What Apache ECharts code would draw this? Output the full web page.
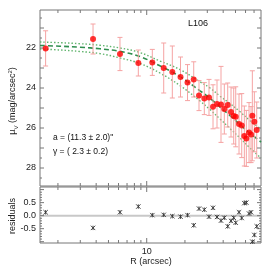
<!DOCTYPE html>
<html><head><meta charset="utf-8">
<script src="https://cdn.jsdelivr.net/npm/echarts@6/dist/echarts.min.js"></script>
<style>html,body{margin:0;padding:0;background:#fff}#c{width:270px;height:270px}</style>
</head><body><div id="c"></div>
<script>
// ---- data ----
const radius = [1.60, 3.78, 6.16, 8.59, 11.07, 13.61, 15.91, 18.46, 20.96, 23.45, 25.81, 28.41, 30.94, 33.27, 35.77, 38.46, 40.83, 43.43, 46.11, 48.42, 50.22, 53.31, 55.98, 58.69, 60.86, 63.92, 66.29, 67.86, 70.36, 73.48];
const mu = [22.02, 21.55, 22.30, 22.75, 22.72, 23.00, 23.20, 23.45, 23.73, 23.57, 24.38, 24.53, 24.47, 24.94, 24.80, 24.82, 25.05, 24.85, 25.20, 25.40, 25.44, 25.80, 25.88, 26.40, 26.52, 26.23, 26.33, 25.39, 25.69, 26.10];
const muErr = [0.88, 0.75, 0.83, 0.65, 0.65, 1.25, 1.30, 1.00, 0.90, 0.88, 0.75, 0.80, 0.90, 1.10, 1.20, 1.90, 1.25, 1.10, 1.25, 1.40, 1.50, 1.50, 1.60, 1.50, 1.40, 1.50, 1.40, 2.25, 1.50, 1.40];
const resid = [0.13, -0.47, 0.13, 0.35, 0.02, 0.03, -0.02, -0.04, 0.02, -0.37, 0.27, 0.23, -0.04, 0.30, -0.05, -0.19, -0.08, -0.41, -0.20, -0.08, -0.27, 0.13, -0.09, 0.48, 0.50, 0.08, 0.13, -1.00, -0.74, -0.41];
const modelR = [1.445, 2.08, 2.99, 4.29, 6.17, 8.86, 12.7, 18.3, 26.3, 31.5, 37.8, 45.3, 54.3, 65.1, 79.4];
const modelMu = [21.875, 21.91, 21.96, 22.04, 22.17, 22.43, 22.89, 23.43, 24.14, 24.515, 24.96, 25.38, 25.84, 26.26, 26.70];
const upperMu = [21.70, 21.735, 21.785, 21.865, 22.00, 22.23, 22.65, 23.08, 23.69, 24.00, 24.41, 24.78, 25.19, 25.635, 26.05];
const lowerMu = [22.05, 22.10, 22.175, 22.28, 22.50, 22.775, 23.25, 23.88, 24.65, 25.08, 25.55, 26.03, 26.50, 27.00, 27.50];
const xTicks = [2, 3, 4, 5, 6, 7, 8, 9, 10, 20, 30, 40, 50, 60, 70];
const xLabels = [10];
const muTicks = [20.5, 21, 21.5, 22, 22.5, 23, 23.5, 24, 24.5, 25, 25.5, 26, 26.5, 27, 27.5, 28, 28.5];
const muLabels = [22, 24, 26, 28];
const residTicks = [-1.0, -0.9, -0.8, -0.7, -0.6, -0.5, -0.4, -0.3, -0.2, -0.1, 0.0, 0.1, 0.2, 0.3, 0.4, 0.5, 0.6, 0.7, 0.8, 0.9, 1.0];
const residLabels = [0.5, 0.0, -0.5];

const FONT = '"Liberation Sans", Arial, sans-serif';
const AX = '#777';
const X_MIN = 1.445, X_MAX = 79.4;
const MU_MIN = 20.1, MU_MAX = 28.9;
const RS_MIN = -1.05, RS_MAX = 1.1;

const chart = echarts.init(document.getElementById('c'), null, {renderer: 'canvas'});

function xTickSeries(xi, yi, yTop, yBot) {
  return {
    type: 'custom', xAxisIndex: xi, yAxisIndex: yi, silent: true, clip: false, z: 5,
    data: xTicks.map(v => [v, yTop]),
    renderItem: (p, api) => {
      const v = api.value(0);
      const len = (v === 10) ? 5 : 3;
      const t = api.coord([v, yTop]), b = api.coord([v, yBot]);
      const st = {stroke: AX, lineWidth: 1};
      return {type: 'group', children: [
        {type: 'line', shape: {x1: t[0], y1: t[1], x2: t[0], y2: t[1] + len}, style: st},
        {type: 'line', shape: {x1: b[0], y1: b[1], x2: b[0], y2: b[1] - len}, style: st}
      ]};
    }
  };
}
function yTickSeries(xi, yi, ticks, step) {
  return {
    type: 'custom', xAxisIndex: xi, yAxisIndex: yi, silent: true, clip: false, z: 5,
    data: ticks.map(v => [X_MIN, v]),
    renderItem: (p, api) => {
      const v = api.value(1);
      const major = Math.abs(v / step - Math.round(v / step)) < 1e-6;
      const len = major ? 4 : 2;
      const l = api.coord([X_MIN, v]), r = api.coord([X_MAX, v]);
      const st = {stroke: AX, lineWidth: 1};
      return {type: 'group', children: [
        {type: 'line', shape: {x1: l[0], y1: l[1], x2: l[0] + len, y2: l[1]}, style: st},
        {type: 'line', shape: {x1: r[0], y1: r[1], x2: r[0] - len, y2: r[1]}, style: st}
      ]};
    }
  };
}
function yLabelSeries(xi, yi, labels, fmt) {
  return {
    type: 'custom', xAxisIndex: xi, yAxisIndex: yi, silent: true, clip: false, z: 6,
    data: labels.map(v => [X_MIN, v]),
    renderItem: (p, api) => {
      const v = api.value(1);
      const c = api.coord([X_MIN, v]);
      return {type: 'text', x: c[0] - 4, y: c[1], style: {text: fmt(v), fontSize: 9, fontFamily: FONT, fill: '#222', align: 'right', verticalAlign: 'middle'}};
    }
  };
}

const hiddenAxis = {axisLine: {show: false}, axisTick: {show: false}, axisLabel: {show: false}, splitLine: {show: false}};

const option = {
  animation: false,
  backgroundColor: '#fff',
  textStyle: {fontFamily: FONT},
  grid: [
    {left: 40, top: 10, width: 221, height: 176, show: true, borderColor: AX, borderWidth: 1},
    {left: 40, top: 187, width: 221, height: 56, show: true, borderColor: AX, borderWidth: 1}
  ],
  xAxis: [
    Object.assign({type: 'log', gridIndex: 0, min: X_MIN, max: X_MAX}, hiddenAxis),
    Object.assign({type: 'log', gridIndex: 1, min: X_MIN, max: X_MAX}, hiddenAxis)
  ],
  yAxis: [
    Object.assign({type: 'value', gridIndex: 0, inverse: true, min: MU_MIN, max: MU_MAX}, hiddenAxis),
    Object.assign({type: 'value', gridIndex: 1, min: RS_MIN, max: RS_MAX}, hiddenAxis)
  ],
  series: [
    {type: 'line', xAxisIndex: 0, yAxisIndex: 0, data: modelR.map((r, i) => [r, upperMu[i]]), smooth: 0.4, showSymbol: false, silent: true,
      lineStyle: {color: '#62b56e', width: 1.4, type: [1.5, 2]}, z: 2},
    {type: 'line', xAxisIndex: 0, yAxisIndex: 0, data: modelR.map((r, i) => [r, lowerMu[i]]), smooth: 0.4, showSymbol: false, silent: true,
      lineStyle: {color: '#62b56e', width: 1.4, type: [1.5, 2]}, z: 2},
    {type: 'line', xAxisIndex: 0, yAxisIndex: 0, data: modelR.map((r, i) => [r, modelMu[i]]), smooth: 0.4, showSymbol: false, silent: true,
      lineStyle: {color: '#2f8f4e', width: 1.6, type: [5, 3]}, z: 3},
    {type: 'custom', xAxisIndex: 0, yAxisIndex: 0, silent: true, z: 4,
      data: radius.map((r, i) => [r, mu[i] - muErr[i], mu[i] + muErr[i]]),
      encode: {x: 0, y: [1, 2]},
      renderItem: (p, api) => {
        const x = api.value(0);
        const a = api.coord([x, api.value(1)]), b = api.coord([x, api.value(2)]);
        const w = 2.5, st = {stroke: '#f5a3a3', lineWidth: 1};
        return {type: 'group', children: [
          {type: 'line', shape: {x1: a[0], y1: a[1], x2: b[0], y2: b[1]}, style: st},
          {type: 'line', shape: {x1: a[0] - w, y1: a[1], x2: a[0] + w, y2: a[1]}, style: st},
          {type: 'line', shape: {x1: b[0] - w, y1: b[1], x2: b[0] + w, y2: b[1]}, style: st}
        ]};
      }},
    {type: 'scatter', xAxisIndex: 0, yAxisIndex: 0, data: radius.map((r, i) => [r, mu[i]]), symbol: 'circle', symbolSize: 6,
      itemStyle: {color: '#ff0000'}, silent: true, z: 6},
    {type: 'custom', xAxisIndex: 1, yAxisIndex: 1, silent: true, z: 4,
      data: [[X_MIN, 0], [X_MAX, 0]],
      renderItem: (p, api) => {
        if (p.dataIndex !== 0) return null;
        const a = api.coord([X_MIN, 0]), b = api.coord([X_MAX, 0]);
        return {type: 'line', shape: {x1: a[0], y1: a[1], x2: b[0], y2: b[1]}, style: {stroke: '#c8c8c8', lineWidth: 2}};
      }},
    {type: 'custom', xAxisIndex: 1, yAxisIndex: 1, silent: true, z: 6,
      data: radius.map((r, i) => [r, resid[i]]),
      renderItem: (p, api) => {
        const c = api.coord([api.value(0), api.value(1)]);
        const s = 2.2, st = {stroke: '#333', lineWidth: 0.9};
        return {type: 'group', children: [
          {type: 'line', shape: {x1: c[0] - s, y1: c[1] - s, x2: c[0] + s, y2: c[1] + s}, style: st},
          {type: 'line', shape: {x1: c[0] - s, y1: c[1] + s, x2: c[0] + s, y2: c[1] - s}, style: st},
          {type: 'line', shape: {x1: c[0], y1: c[1] - s, x2: c[0], y2: c[1] + s}, style: st}
        ]};
      }},
    xTickSeries(0, 0, MU_MIN, MU_MAX),
    xTickSeries(1, 1, RS_MAX, RS_MIN),
    yTickSeries(0, 0, muTicks, 1),
    yTickSeries(1, 1, residTicks, 0.5),
    yLabelSeries(0, 0, muLabels, v => String(Math.round(v))),
    yLabelSeries(1, 1, residLabels, v => v.toFixed(1)),
    {type: 'custom', xAxisIndex: 1, yAxisIndex: 1, silent: true, clip: false, z: 6,
      data: xLabels.map(v => [v, RS_MIN]),
      renderItem: (p, api) => {
        const v = api.value(0);
        const c = api.coord([v, RS_MIN]);
        return {type: 'text', x: c[0], y: c[1] + 4, style: {text: String(v), fontSize: 9, fontFamily: FONT, fill: '#222', align: 'center', verticalAlign: 'top'}};
      }}
  ],
  graphic: [
    {type: 'text', x: 198, y: 24, style: {text: 'L106', fontSize: 9, fontFamily: FONT, fill: '#111', align: 'center', verticalAlign: 'middle'}},
    {type: 'text', x: 53, y: 138, style: {text: 'a = (11.3 ± 2.0)"', fontSize: 8.5, fontFamily: FONT, fill: '#111', align: 'left', verticalAlign: 'middle'}},
    {type: 'text', x: 53, y: 152, style: {text: 'γ = ( 2.3 ± 0.2)', fontSize: 8.5, fontFamily: FONT, fill: '#111', align: 'left', verticalAlign: 'middle'}},
    {type: 'text', x: 13, y: 101, rotation: Math.PI / 2, style: {
      text: '{m|μ}{s|V}{m| (mag/arcsec}{p|2}{m|)}', align: 'center', verticalAlign: 'middle',
      rich: {m: {fontSize: 9, fontFamily: FONT, fill: '#222', lineHeight: 12},
             s: {fontSize: 6, fontFamily: FONT, fill: '#222', verticalAlign: 'bottom', lineHeight: 12},
             p: {fontSize: 6, fontFamily: FONT, fill: '#222', verticalAlign: 'top', lineHeight: 12}}}},
    {type: 'text', x: 13, y: 216, rotation: Math.PI / 2, style: {text: 'residuals', fontSize: 9, fontFamily: FONT, fill: '#222', align: 'center', verticalAlign: 'middle'}},
    {type: 'text', x: 151, y: 262, style: {text: 'R (arcsec)', fontSize: 9, fontFamily: FONT, fill: '#222', align: 'center', verticalAlign: 'middle'}}
  ]
};
chart.setOption(option);
</script>
</body></html>
